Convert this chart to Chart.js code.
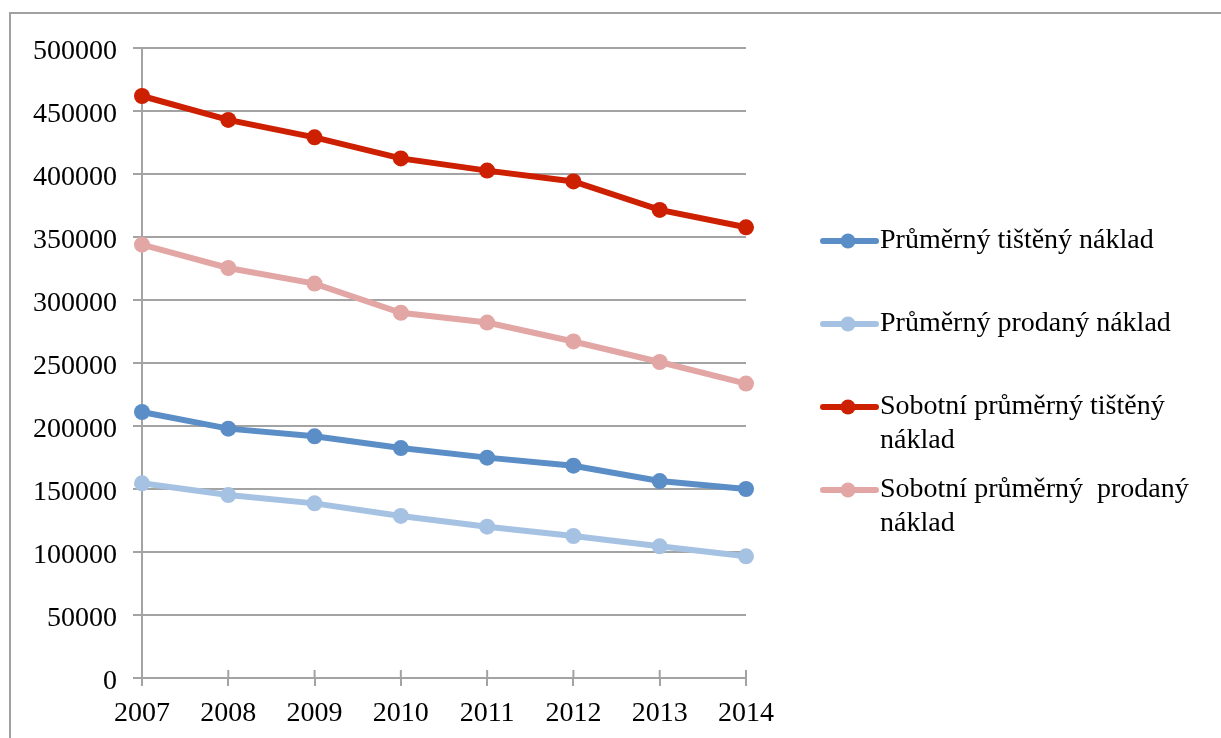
<!DOCTYPE html>
<html>
<head>
<meta charset="utf-8">
<script src="https://cdn.jsdelivr.net/npm/chart.js@4.4.1/dist/chart.umd.min.js"></script>
<style>
  html, body { margin: 0; padding: 0; background: #fff; }
  #wrap { width: 1221px; height: 738px; position: relative; }
</style>
</head>
<body>
<div id="wrap"><canvas id="nakladChart" width="1221" height="738"></canvas></div>
<script>
const years = ['2007', '2008', '2009', '2010', '2011', '2012', '2013', '2014'];

const tistenyNaklad = [211100, 197900, 191800, 182500, 174900, 168500, 156300, 150000];
const prodanyNaklad = [154500, 145200, 138600, 128600, 120100, 112700, 104500, 96600];
const sobotniTisteny = [461900, 442900, 429100, 412400, 402700, 394100, 371500, 357700];
const sobotniProdany = [343900, 325400, 313000, 289900, 282100, 267100, 250800, 233700];

const seriesLabels = [
  'Průměrný tištěný náklad',
  'Průměrný prodaný náklad',
  'Sobotní průměrný tištěný náklad',
  'Sobotní průměrný  prodaný náklad'
];
const seriesColors = ['#5B8EC6', '#A6C2E3', '#CC2000', '#E2A6A5'];

const FONT = '"Liberation Serif", "Times New Roman", serif';
const GRID = '#A3A3A3';

// frame line on top and left of the whole chart object
const framePlugin = {
  id: 'frame',
  beforeDraw(chart) {
    const ctx = chart.ctx;
    ctx.save();
    ctx.strokeStyle = '#A0A0A0';
    ctx.lineWidth = 2;
    ctx.beginPath();
    ctx.moveTo(10, chart.height);
    ctx.lineTo(10, 13);
    ctx.lineTo(chart.width, 13);
    ctx.stroke();
    ctx.restore();
  }
};

// small category ticks that cross into the plot above the x axis
const innerTicks = {
  id: 'innerTicks',
  beforeDatasetsDraw(chart) {
    const x = chart.scales.x;
    const ctx = chart.ctx;
    ctx.save();
    ctx.strokeStyle = GRID;
    ctx.lineWidth = 2;
    x.ticks.forEach((t, i) => {
      const px = x.getPixelForTick(i);
      ctx.beginPath();
      ctx.moveTo(px, x.top - 8);
      ctx.lineTo(px, x.top);
      ctx.stroke();
    });
    ctx.restore();
  }
};

// legend on the right, long names wrapped onto a second line
const sideLegend = {
  id: 'sideLegend',
  afterDraw(chart) {
    const ctx = chart.ctx;
    const rows = [241, 324, 407, 490];
    const lineH = 34;
    ctx.save();
    ctx.font = '28px ' + FONT;
    ctx.textBaseline = 'middle';
    chart.data.datasets.forEach((ds, i) => {
      const y = rows[i];
      ctx.strokeStyle = ds.borderColor;
      ctx.lineWidth = 6;
      ctx.lineCap = 'round';
      ctx.beginPath();
      ctx.moveTo(823, y);
      ctx.lineTo(876, y);
      ctx.stroke();
      ctx.fillStyle = ds.borderColor;
      ctx.beginPath();
      ctx.arc(848, y, 7.5, 0, Math.PI * 2);
      ctx.fill();

      const words = ds.label.split(' ');
      const lines = [];
      let line = '';
      words.forEach(w => {
        const test = line ? line + ' ' + w : w;
        if (line && ctx.measureText(test).width > 330) {
          lines.push(line);
          line = w;
        } else {
          line = test;
        }
      });
      lines.push(line);
      ctx.fillStyle = '#000';
      lines.forEach((l, k) => ctx.fillText(l, 880, y + k * lineH));
    });
    ctx.restore();
  }
};

const seriesData = [tistenyNaklad, prodanyNaklad, sobotniTisteny, sobotniProdany];

new Chart('nakladChart', {
  type: 'line',
  data: {
    labels: years,
    datasets: seriesData.map((d, i) => ({
      label: seriesLabels[i],
      data: d,
      borderColor: seriesColors[i],
      backgroundColor: seriesColors[i],
      pointBackgroundColor: seriesColors[i],
      pointBorderWidth: 0,
      borderWidth: 6,
      pointRadius: 8,
      tension: 0,
      fill: false,
      clip: false
    }))
  },
  options: {
    responsive: false,
    animation: false,
    layout: { padding: { left: 0, top: 48, right: 475, bottom: 0 } },
    plugins: {
      legend: { display: false },
      tooltip: { enabled: false }
    },
    scales: {
      x: {
        offset: false,
        grid: { drawOnChartArea: false, color: GRID, lineWidth: 2, tickLength: 8 },
        border: { display: false },
        ticks: { font: { family: FONT, size: 28 }, color: '#000', padding: 11, maxRotation: 0 },
        afterFit(scale) { scale.height = 60; }
      },
      y: {
        min: 0,
        max: 500000,
        grid: { color: GRID, lineWidth: 2, tickLength: 9 },
        border: { color: GRID, width: 2 },
        ticks: {
          stepSize: 50000,
          font: { family: FONT, size: 28 },
          color: '#000',
          padding: 16,
          labelOffset: 4,
          callback: v => String(v)
        },
        afterFit(scale) { scale.width = 142; }
      }
    }
  },
  plugins: [framePlugin, innerTicks, sideLegend]
});
</script>
</body>
</html>
